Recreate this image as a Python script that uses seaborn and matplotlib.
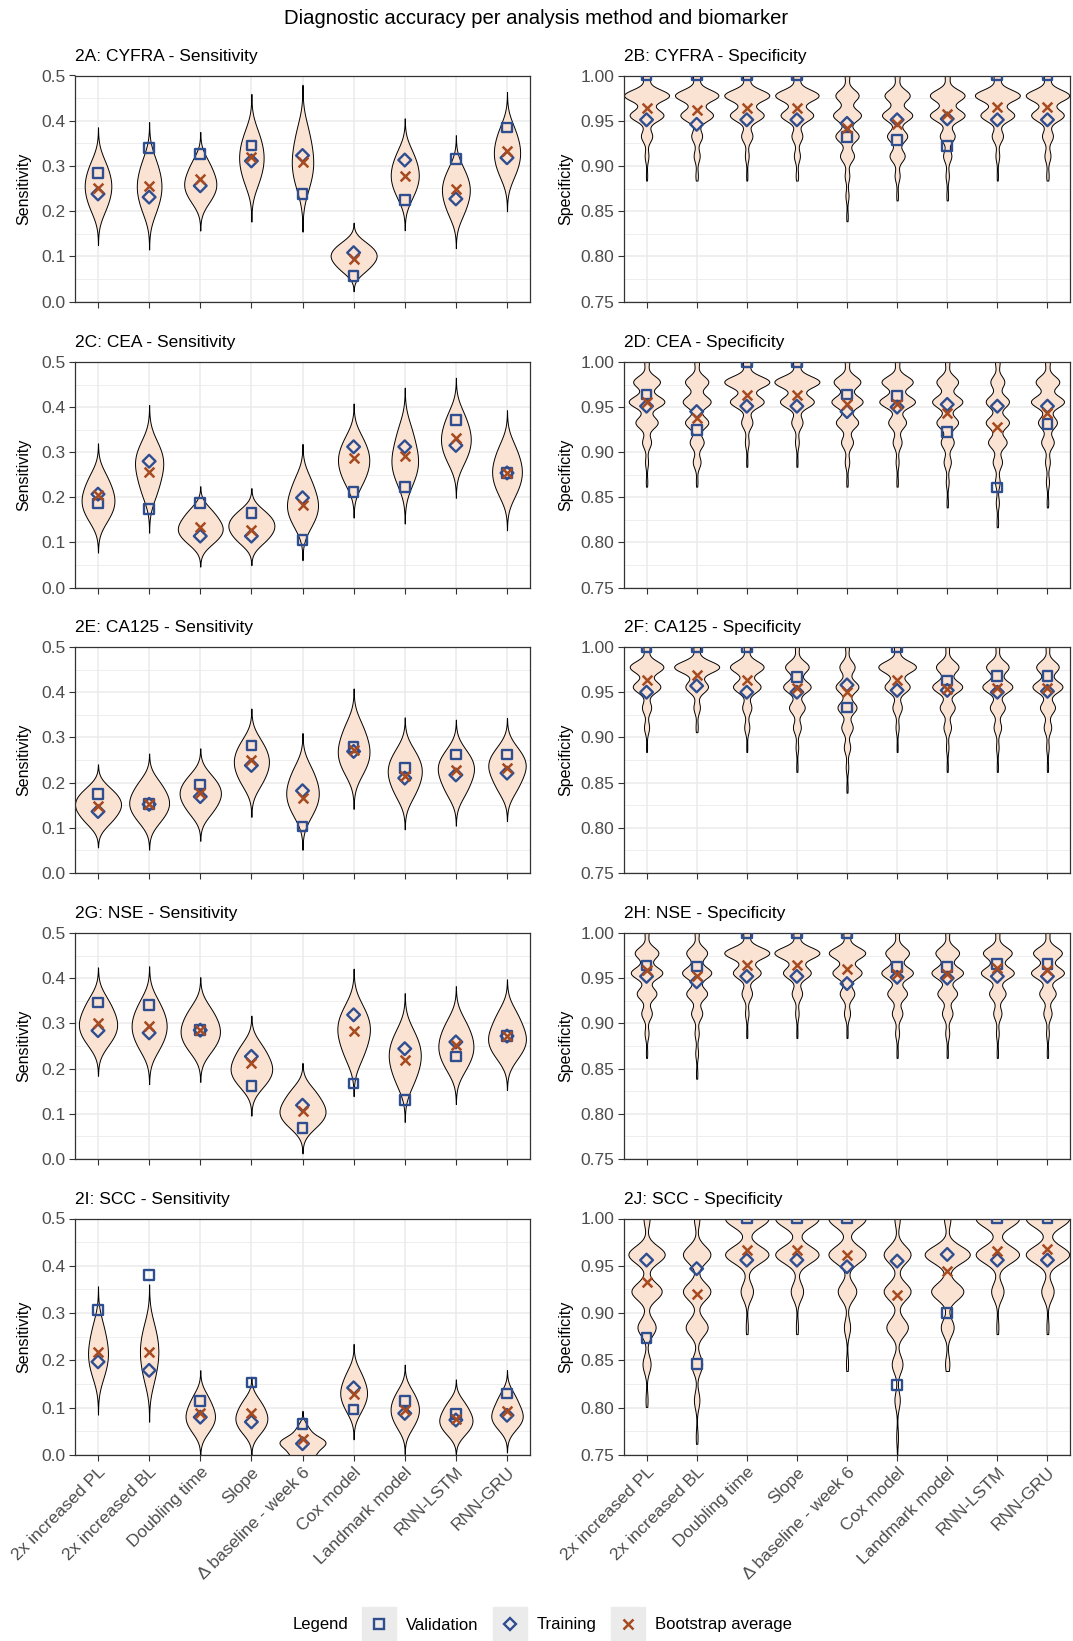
import warnings
import numpy as np
import pandas as pd
import matplotlib
matplotlib.use("Agg")
import matplotlib.pyplot as plt
from matplotlib.lines import Line2D
from matplotlib.legend_handler import HandlerTuple
from matplotlib.ticker import MultipleLocator, FormatStrFormatter
import seaborn as sns

warnings.filterwarnings("ignore")

methods = ["2x increased PL", "2x increased BL", "Doubling time", "Slope",
           "\u0394 baseline - week 6", "Cox model", "Landmark model", "RNN-LSTM", "RNN-GRU"]

# ---- sensitivity: a few representative bootstrap values per method ----
cyfra_sens = [[0.206, 0.235, 0.255, 0.275, 0.304],
              [0.203, 0.234, 0.255, 0.277, 0.309],
              [0.225, 0.247, 0.262, 0.280, 0.307],
              [0.265, 0.296, 0.318, 0.340, 0.371],
              [0.256, 0.289, 0.312, 0.339, 0.378],
              [0.070, 0.088, 0.100, 0.111, 0.127],
              [0.235, 0.262, 0.280, 0.300, 0.328],
              [0.196, 0.225, 0.245, 0.263, 0.290],
              [0.282, 0.310, 0.330, 0.351, 0.381]]
cea_sens = [[0.153, 0.178, 0.195, 0.215, 0.244],
            [0.210, 0.245, 0.270, 0.289, 0.316],
            [0.102, 0.120, 0.132, 0.147, 0.169],
            [0.103, 0.122, 0.136, 0.149, 0.167],
            [0.141, 0.167, 0.185, 0.206, 0.238],
            [0.234, 0.262, 0.282, 0.301, 0.329],
            [0.236, 0.265, 0.285, 0.311, 0.349],
            [0.282, 0.310, 0.330, 0.351, 0.382],
            [0.210, 0.238, 0.258, 0.279, 0.310]]
ca125_sens = [[0.114, 0.136, 0.150, 0.164, 0.183],
              [0.118, 0.141, 0.156, 0.173, 0.198],
              [0.135, 0.159, 0.175, 0.190, 0.212],
              [0.199, 0.226, 0.245, 0.263, 0.289],
              [0.132, 0.159, 0.178, 0.199, 0.229],
              [0.225, 0.252, 0.271, 0.293, 0.325],
              [0.174, 0.203, 0.223, 0.241, 0.267],
              [0.178, 0.207, 0.227, 0.243, 0.266],
              [0.186, 0.215, 0.234, 0.249, 0.272]]
nse_sens = [[0.259, 0.283, 0.300, 0.320, 0.349],
            [0.247, 0.275, 0.295, 0.315, 0.345],
            [0.243, 0.267, 0.284, 0.303, 0.330],
            [0.165, 0.187, 0.202, 0.221, 0.248],
            [0.075, 0.094, 0.108, 0.125, 0.150],
            [0.227, 0.261, 0.284, 0.304, 0.333],
            [0.171, 0.204, 0.227, 0.248, 0.278],
            [0.203, 0.231, 0.250, 0.271, 0.301],
            [0.229, 0.253, 0.269, 0.290, 0.321]]
scc_sens = [[0.170, 0.198, 0.217, 0.239, 0.272],
            [0.161, 0.194, 0.217, 0.239, 0.270],
            [0.053, 0.071, 0.084, 0.099, 0.122],
            [0.050, 0.067, 0.079, 0.093, 0.113],
            [0.0, 0.0, 0.027, 0.027, 0.027, 0.027, 0.055],
            [0.096, 0.118, 0.132, 0.148, 0.172],
            [0.061, 0.082, 0.096, 0.111, 0.132],
            [0.048, 0.064, 0.075, 0.089, 0.109],
            [0.060, 0.075, 0.086, 0.102, 0.125]]

# ---- specificity: discrete levels and bootstrap counts per level ----
spec_levels = [1.0, 0.978, 0.956, 0.933, 0.911, 0.889, 0.867, 0.844, 0.822]
scc_spec_levels = [1.0, 0.962, 0.923, 0.885, 0.846, 0.808, 0.769, 0.731]

cyfra_spec_counts = [[6, 36, 27, 9, 3, 1, 0, 0, 0],
                     [6, 36, 27, 9, 5, 2, 0, 0, 0],
                     [6, 36, 27, 9, 3, 1, 0, 0, 0],
                     [6, 36, 27, 9, 5, 2, 0, 0, 0],
                     [3, 15, 18, 15, 9, 3, 2, 1, 0],
                     [3, 15, 18, 12, 9, 3, 1, 0, 0],
                     [3, 21, 21, 9, 5, 2, 1, 0, 0],
                     [6, 36, 27, 9, 3, 1, 0, 0, 0],
                     [6, 36, 27, 9, 5, 2, 0, 0, 0]]
cea_spec_counts = [[3, 18, 24, 15, 6, 2, 1, 0, 0],
                   [3, 15, 18, 15, 9, 5, 1, 0, 0],
                   [6, 36, 27, 9, 3, 1, 0, 0, 0],
                   [6, 36, 27, 9, 3, 1, 0, 0, 0],
                   [3, 18, 21, 15, 8, 3, 1, 0, 0],
                   [3, 21, 24, 12, 6, 2, 1, 0, 0],
                   [3, 15, 21, 15, 9, 5, 2, 1, 0],
                   [3, 9, 15, 15, 12, 6, 3, 2, 1],
                   [3, 15, 21, 12, 8, 3, 2, 1, 0]]
ca125_spec_counts = [[6, 33, 27, 9, 5, 1, 0, 0, 0],
                     [6, 42, 21, 6, 2, 0, 0, 0, 0],
                     [6, 33, 27, 9, 5, 1, 0, 0, 0],
                     [3, 18, 21, 12, 6, 2, 1, 0, 0],
                     [3, 12, 18, 15, 9, 5, 2, 1, 0],
                     [6, 36, 24, 9, 3, 1, 0, 0, 0],
                     [3, 18, 24, 12, 6, 2, 1, 0, 0],
                     [3, 18, 24, 12, 6, 2, 1, 0, 0],
                     [3, 18, 24, 12, 6, 2, 1, 0, 0]]
nse_spec_counts = [[3, 18, 24, 15, 8, 3, 1, 0, 0],
                   [3, 15, 21, 15, 8, 3, 2, 1, 0],
                   [6, 39, 24, 9, 3, 1, 0, 0, 0],
                   [6, 39, 24, 9, 3, 1, 0, 0, 0],
                   [6, 30, 24, 12, 5, 1, 0, 0, 0],
                   [3, 18, 24, 15, 8, 3, 1, 0, 0],
                   [3, 18, 24, 15, 8, 3, 1, 0, 0],
                   [3, 21, 24, 12, 6, 2, 1, 0, 0],
                   [3, 21, 24, 12, 6, 2, 1, 0, 0]]
scc_spec_counts = [[3, 18, 15, 9, 4, 1, 0, 0],
                   [3, 15, 15, 12, 6, 3, 1, 0],
                   [21, 21, 6, 1, 0, 0, 0, 0],
                   [21, 21, 6, 1, 0, 0, 0, 0],
                   [18, 18, 9, 3, 1, 0, 0, 0],
                   [3, 15, 15, 12, 6, 3, 1, 1],
                   [3, 21, 15, 6, 2, 0, 0, 0],
                   [21, 21, 6, 1, 0, 0, 0, 0],
                   [21, 21, 6, 1, 0, 0, 0, 0]]

# ---- point estimates ----
cyfra_sens_val = [0.285, 0.340, 0.326, 0.345, 0.238, 0.057, 0.224, 0.316, 0.385]
cyfra_sens_train = [0.238, 0.231, 0.256, 0.311, 0.323, 0.108, 0.313, 0.227, 0.318]
cyfra_sens_boot = [0.251, 0.256, 0.271, 0.319, 0.308, 0.094, 0.277, 0.248, 0.334]
cea_sens_val = [0.186, 0.174, 0.187, 0.165, 0.105, 0.212, 0.223, 0.372, 0.254]
cea_sens_train = [0.207, 0.280, 0.114, 0.114, 0.199, 0.312, 0.312, 0.315, 0.254]
cea_sens_boot = [0.205, 0.257, 0.134, 0.128, 0.182, 0.288, 0.292, 0.331, 0.254]
ca125_sens_val = [0.174, 0.152, 0.196, 0.282, 0.103, 0.279, 0.232, 0.262, 0.262]
ca125_sens_train = [0.136, 0.152, 0.169, 0.238, 0.182, 0.269, 0.210, 0.217, 0.221]
ca125_sens_boot = [0.149, 0.152, 0.178, 0.249, 0.166, 0.273, 0.214, 0.227, 0.232]
nse_sens_val = [0.346, 0.341, 0.285, 0.162, 0.068, 0.167, 0.130, 0.227, 0.272]
nse_sens_train = [0.284, 0.279, 0.285, 0.227, 0.119, 0.319, 0.244, 0.259, 0.272]
nse_sens_boot = [0.301, 0.295, 0.285, 0.213, 0.107, 0.284, 0.219, 0.253, 0.272]
scc_sens_val = [0.307, 0.381, 0.114, 0.153, 0.066, 0.096, 0.114, 0.086, 0.130]
scc_sens_train = [0.197, 0.179, 0.080, 0.070, 0.024, 0.142, 0.088, 0.074, 0.084]
scc_sens_boot = [0.218, 0.217, 0.088, 0.088, 0.033, 0.130, 0.096, 0.076, 0.094]

cyfra_spec_val = [1.0, 1.0, 1.0, 1.0, 0.932, 0.929, 0.922, 1.0, 1.0]
cyfra_spec_train = [0.951, 0.946, 0.951, 0.951, 0.947, 0.951, 0.952, 0.951, 0.951]
cyfra_spec_boot = [0.964, 0.962, 0.964, 0.964, 0.942, 0.946, 0.957, 0.965, 0.965]
cea_spec_val = [0.964, 0.925, 1.0, 1.0, 0.964, 0.962, 0.922, 0.861, 0.931]
cea_spec_train = [0.951, 0.945, 0.951, 0.951, 0.945, 0.950, 0.953, 0.951, 0.951]
cea_spec_boot = [0.956, 0.938, 0.963, 0.963, 0.953, 0.953, 0.944, 0.928, 0.944]
ca125_spec_val = [1.0, 1.0, 1.0, 0.967, 0.933, 1.0, 0.963, 0.968, 0.968]
ca125_spec_train = [0.950, 0.957, 0.950, 0.950, 0.958, 0.952, 0.952, 0.950, 0.951]
ca125_spec_boot = [0.963, 0.969, 0.963, 0.955, 0.950, 0.964, 0.954, 0.955, 0.955]
nse_spec_val = [0.964, 0.963, 1.0, 1.0, 1.0, 0.962, 0.962, 0.966, 0.966]
nse_spec_train = [0.952, 0.946, 0.952, 0.952, 0.944, 0.951, 0.950, 0.952, 0.952]
nse_spec_boot = [0.959, 0.952, 0.965, 0.965, 0.960, 0.955, 0.955, 0.961, 0.959]
scc_spec_val = [0.874, 0.846, 1.0, 1.0, 1.0, 0.824, 0.900, 1.0, 1.0]
scc_spec_train = [0.956, 0.947, 0.956, 0.956, 0.949, 0.955, 0.962, 0.956, 0.956]
scc_spec_boot = [0.933, 0.920, 0.967, 0.967, 0.961, 0.919, 0.945, 0.966, 0.968]

# ---- style ----
FILL = "#FBE3D4"
BLUE = "#2F4E8F"
ORANGE = "#A84A1F"
GRID = "#EBEBEB"
TICK_TXT = "#4D4D4D"

plt.rcParams["font.family"] = ["Liberation Sans", "DejaVu Sans"]

W, H = 1073, 1641
col_left = [75, 624]
col_width = [455, 446]
row_top = [75.5, 362, 647, 933, 1218.5]
row_bottom = [301.5, 587.5, 873, 1159, 1455]


def sens_frame(samples):
    n = [len(s) for s in samples]
    return pd.DataFrame({"method": np.repeat(methods, n), "value": np.concatenate(samples)})


def spec_frame(levels, counts):
    vals = [np.repeat(levels, c) for c in counts]
    n = [len(v) for v in vals]
    return pd.DataFrame({"method": np.repeat(methods, n), "value": np.concatenate(vals)})


def fixed_bw(width):
    # absolute kernel width, independent of each violin's spread
    return lambda kde: width / kde.dataset.std(ddof=1)


panels = [
    ("2A: CYFRA - Sensitivity", "sens", sens_frame(cyfra_sens), cyfra_sens_val, cyfra_sens_train, cyfra_sens_boot, None),
    ("2B: CYFRA - Specificity", "spec", spec_frame(spec_levels, cyfra_spec_counts), cyfra_spec_val, cyfra_spec_train, cyfra_spec_boot, 0.0065),
    ("2C: CEA - Sensitivity", "sens", sens_frame(cea_sens), cea_sens_val, cea_sens_train, cea_sens_boot, None),
    ("2D: CEA - Specificity", "spec", spec_frame(spec_levels, cea_spec_counts), cea_spec_val, cea_spec_train, cea_spec_boot, 0.0065),
    ("2E: CA125 - Sensitivity", "sens", sens_frame(ca125_sens), ca125_sens_val, ca125_sens_train, ca125_sens_boot, None),
    ("2F: CA125 - Specificity", "spec", spec_frame(spec_levels, ca125_spec_counts), ca125_spec_val, ca125_spec_train, ca125_spec_boot, 0.0065),
    ("2G: NSE - Sensitivity", "sens", sens_frame(nse_sens), nse_sens_val, nse_sens_train, nse_sens_boot, None),
    ("2H: NSE - Specificity", "spec", spec_frame(spec_levels, nse_spec_counts), nse_spec_val, nse_spec_train, nse_spec_boot, 0.0065),
    ("2I: SCC - Sensitivity", "sens", sens_frame(scc_sens), scc_sens_val, scc_sens_train, scc_sens_boot, None),
    ("2J: SCC - Specificity", "spec", spec_frame(scc_spec_levels, scc_spec_counts), scc_spec_val, scc_spec_train, scc_spec_boot, 0.009),
]

fig = plt.figure(figsize=(W / 100, H / 100), dpi=100)

for i, (title, kind, df, val, train, boot, bw) in enumerate(panels):
    r, c = divmod(i, 2)
    ax = fig.add_axes([col_left[c] / W, 1 - row_bottom[r] / H,
                       col_width[c] / W, (row_bottom[r] - row_top[r]) / H])

    if kind == "sens":
        sns.violinplot(data=df, x="method", y="value", order=methods, ax=ax,
                       color=FILL, saturation=1, linecolor="black", linewidth=0.7,
                       inner=None, width=0.9, density_norm="area", cut=3)
    else:
        sns.violinplot(data=df, x="method", y="value", order=methods, ax=ax,
                       color=FILL, saturation=1, linecolor="black", linewidth=0.7,
                       inner=None, width=0.9, density_norm="area", cut=0.8,
                       bw_method=fixed_bw(bw))

    pts = pd.DataFrame({"method": methods, "val": val, "train": train, "boot": boot})
    sns.stripplot(data=pts, x="method", y="val", order=methods, ax=ax, jitter=False,
                  marker="s", size=7, color=BLUE, facecolor="none", edgecolor=BLUE,
                  linewidth=1.7, zorder=4)
    sns.stripplot(data=pts, x="method", y="train", order=methods, ax=ax, jitter=False,
                  marker="D", size=6.5, color=BLUE, facecolor="none", edgecolor=BLUE,
                  linewidth=1.7, zorder=4)
    sns.stripplot(data=pts, x="method", y="boot", order=methods, ax=ax, jitter=False,
                  marker="x", size=7, color=ORANGE, edgecolor=ORANGE,
                  linewidth=1.8, zorder=5)

    if kind == "sens":
        ax.set_ylim(0, 0.5)
        ax.yaxis.set_major_locator(MultipleLocator(0.1))
        ax.yaxis.set_minor_locator(MultipleLocator(0.05))
        ax.yaxis.set_major_formatter(FormatStrFormatter("%.1f"))
        ax.set_ylabel("Sensitivity", fontsize=11.5)
        ax.yaxis.set_label_coords(-0.097, 0.5)
    else:
        ax.set_ylim(0.75, 1.0)
        ax.yaxis.set_major_locator(MultipleLocator(0.05))
        ax.yaxis.set_minor_locator(MultipleLocator(0.025))
        ax.yaxis.set_major_formatter(FormatStrFormatter("%.2f"))
        ax.set_ylabel("Specificity", fontsize=11.5)
        ax.yaxis.set_label_coords(-0.114, 0.5)

    ax.set_xlim(-0.45, len(methods) - 0.55)
    ax.set_xlabel("")
    ax.set_axisbelow(True)
    ax.grid(True, which="major", color=GRID, linewidth=1.1)
    ax.grid(True, which="minor", axis="y", color=GRID, linewidth=0.6)
    for s in ax.spines.values():
        s.set_color("#333333")
        s.set_linewidth(0.9)
    ax.tick_params(which="major", length=4.3, width=0.8, color="#333333",
                   labelsize=12.5, labelcolor=TICK_TXT, pad=2.5)
    ax.tick_params(which="minor", length=0)
    ax.set_title(title, loc="left", fontsize=12.5, pad=10.5)

    if r == 4:
        ax.set_xticks(range(len(methods)))
        ax.set_xticklabels(methods, rotation=45, ha="right", va="top",
                           rotation_mode="anchor", fontsize=12.5, color=TICK_TXT)
    else:
        ax.tick_params(axis="x", labelbottom=False)

fig.text(0.5, 1 - 19 / H, "Diagnostic accuracy per analysis method and biomarker",
         ha="center", va="center", fontsize=14.6)

# legend with grey key backgrounds
key_bg = dict(marker="s", markersize=24, color="#EBEBEB", linestyle="none")
h_val = (Line2D([], [], **key_bg),
         Line2D([], [], marker="s", markersize=7, mfc="none", mec=BLUE, mew=1.7, linestyle="none"))
h_train = (Line2D([], [], **key_bg),
           Line2D([], [], marker="D", markersize=6.5, mfc="none", mec=BLUE, mew=1.7, linestyle="none"))
h_boot = (Line2D([], [], **key_bg),
          Line2D([], [], marker="x", markersize=7, color=ORANGE, mew=1.8, linestyle="none"))
fig.legend([h_val, h_train, h_boot], ["Validation", "Training", "Bootstrap average"],
           handler_map={tuple: HandlerTuple(ndivide=1, pad=0)},
           ncol=3, loc="center", bbox_to_anchor=(577 / W, 1 - 1625 / H), frameon=False,
           fontsize=12, handlelength=2.0, handletextpad=0.6, columnspacing=0.9)
fig.text(293 / W, 1 - 1625 / H, "Legend", ha="left", va="center", fontsize=12)

fig.savefig("out.png", dpi=100)
